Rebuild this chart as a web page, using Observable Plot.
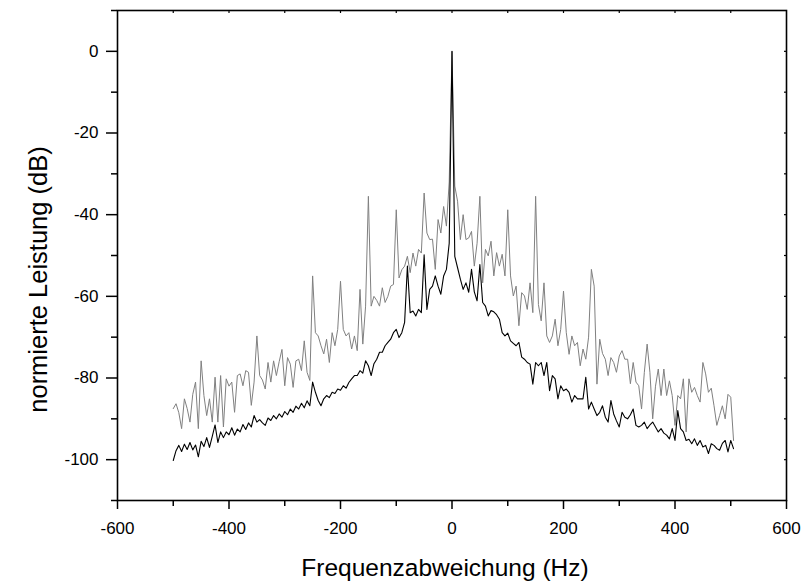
<!DOCTYPE html>
<html>
<head>
<meta charset="utf-8">
<script src="https://cdn.jsdelivr.net/npm/d3@7"></script>
<script src="https://cdn.jsdelivr.net/npm/@observablehq/plot@0.6"></script>
<style>
  body { margin: 0; background: #fff; }
  #chart { width: 801px; height: 583px; }
</style>
</head>
<body>
<div id="chart"></div>
<script>
// Sample frequencies: -500 Hz .. 505 Hz, 5 Hz spacing
const freqStart = -500;
const freqStep = 5;

// grey spectrum (dB)
const greyDb = [
  -87.5, -86.3, -88.5, -92.4, -85.1, -87.5, -90.8, -84, -81, -92.4,
  -75.8, -84.3, -89.2, -85.1, -90.8, -79.8, -90.8, -79.4, -92, -80.2,
  -82, -81, -88.4, -79.4, -79, -81.9, -78.2, -78.6, -86.7, -81,
  -69.7, -79.4, -80.5, -82.7, -76.2, -81, -75.8, -79.4, -76, -73,
  -81.9, -75, -76.6, -82.3, -75.8, -75.4, -78.2, -70.9, -78.6, -80.6,
  -55,
  -68.9, -69.7, -72.1, -74.1, -70.5, -76.2, -68.9, -72.1, -68.1,
  -56.3, -68.1, -69.7, -68.9, -72.9, -69.7, -73.3, -58.3, -71.7, -62.4,
  -35.5, -62.4, -60, -61, -62.4, -57.9, -61.5, -60, -57.5, -57.1,
  -38.8, -55.5, -53.5, -52.6, -50.2, -54.2, -49.4, -52.6, -48.5, -49.4,
  -34.7, -44.5, -46.1, -46, -53.4, -41.2, -44.5, -38, -42.8, -32,
  0,
  -33, -36.7, -46.1, -40, -46.1, -45.7, -44.1, -52.6, -47,
  -35.5, -56.7, -48.5, -50.1, -46.5, -55, -49.3, -52.6, -49.7, -55,
  -38.8, -55, -59.9, -57.5, -67.2, -59.1, -59.9, -63.2, -56.7, -64,
  -35.5, -62, -66, -56.7, -69.7, -71.3, -69.7, -65.6, -72.1, -68.1,
  -58.7, -68.9, -74.2, -69.7, -72.1, -71.3, -77, -72.9, -75.4, -70,
  -53.4, -57.5, -81.5,
  -70.5, -74, -75.4, -79.4, -75, -76.2, -78.6, -74.6, -73.3, -75.4,
  -75.4, -81.4, -76.2, -81, -81.9, -87.6, -78.6, -71.7, -78.6, -90,
  -82, -77.8, -84.3, -77.8, -84.3, -80.7, -84.3, -91.6, -84.3, -85.1,
  -80.2, -93.2, -80.2, -83.5, -82.3, -84.3, -85.9, -76.2, -79, -83.5,
  -82.5, -86.8, -91.6, -89.2, -86.8, -90, -84, -84.7, -95.3
];

// black spectrum (dB)
const blackDb = [
  -100.2, -97.8, -96.5, -98, -96.2, -97.5, -95.8, -97.6, -96.4, -99.3,
  -95.5, -96.8, -94.6, -97, -94.3, -91.5, -95.8, -93.2, -94.6, -93.2,
  -93.9, -92.2, -94, -92.5, -93.2, -91.4, -92.6, -91, -92, -89.2,
  -90.8, -90.2, -91, -91.6, -89.8, -90.4, -89.2, -90, -88.8, -89.6,
  -88.2, -89, -87.6, -88.4, -86.9, -87.6, -86.2, -87.3, -85.6, -86.8,
  -81,
  -83.5, -85.5, -86.8, -85.1, -84.3, -84.8, -83.5, -83.8, -82.7,
  -83, -81.9, -82.5, -81.1, -80.2, -79.4, -79.4, -78.2, -78.8, -75.8,
  -77, -79.4, -76.5, -75.4, -73.7, -73.7, -72.1, -71.3, -70.5, -68.9,
  -68.1, -70.1, -68.9, -66.4, -52.6, -64, -63.6, -64.8, -63.2, -64,
  -49.8, -63.2, -58.3, -57.5, -55, -57.5, -59.5, -55, -53.4, -47,
  0,
  -50.2, -53, -55.8, -58.3, -56.7, -59, -53.4, -58.9, -61.1,
  -52.2, -61.5, -62.4, -64.8, -63.5, -63.8, -64.5, -65.6, -68.9, -69.7,
  -69, -70.9, -71.5, -72.1, -71.3, -74.9, -75.4, -76.2, -76.6, -81.5,
  -76.2, -77, -76.2, -79.4, -76.2, -83.1, -79.4, -80.2, -85.1, -81.9,
  -83.1, -82.7, -83.5, -85.9, -84.3, -85.1, -85.1, -85.1, -79.8, -87.6,
  -85.9, -87.6, -89.2,
  -88.4, -86.8, -89.6, -90.8, -85.5, -88.8, -90.5, -92, -88.4, -89.6,
  -90, -89, -87.6, -91.6, -92, -91.6, -90.8, -92.4, -91.5, -90.8,
  -92, -93.2, -92.4, -93.5, -94, -94.9, -92.4, -95.3, -88, -92.4,
  -93.2, -95.3, -95, -96.1, -94.9, -96.5, -95.3, -96.9, -96.5, -98.5,
  -96.1, -96.5, -97.3, -97.7, -96, -95.3, -98.1, -95.3, -97.3
];

const xMajorTicks = [-600, -400, -200, 0, 200, 400, 600];
const xMinorTicks = [-500, -300, -100, 100, 300, 500];
const xTopTicks = [-500, -400, -300, -200, -100, 0, 100, 200, 300, 400, 500];
const yMajorTicks = [-100, -80, -60, -40, -20, 0];
const yMinorTicks = [-110, -90, -70, -50, -30, -10, 10];
const yRightTicks = [-100, -90, -80, -70, -60, -50, -40, -30, -20, -10, 0];
const xTitle = "Frequenzabweichung (Hz)";
const yTitle = "normierte Leistung (dB)";

const toRows = (vals) => vals.map((v, i) => ({f: freqStart + i * freqStep, db: v}));
const greyRows = toRows(greyDb);
const blackRows = toRows(blackDb);
const noLabel = () => "";
const fmt = (d) => String(d);

const chart = Plot.plot({
  width: 801,
  height: 583,
  marginLeft: 117,
  marginRight: 15,
  marginTop: 10,
  marginBottom: 83,
  style: {fontFamily: "'Liberation Sans', Arial, sans-serif", fontSize: "17px", color: "#000", background: "#fff"},
  x: {domain: [-600, 600]},
  y: {domain: [-110, 10]},
  marks: [
    Plot.lineY(greyRows, {x: "f", y: "db", stroke: "#808080", strokeWidth: 1}),
    Plot.lineY(blackRows, {x: "f", y: "db", stroke: "#000", strokeWidth: 1.1}),
    Plot.frame({stroke: "#000", strokeWidth: 1.6}),
    Plot.axisX(xMajorTicks, {anchor: "bottom", tickSize: 9, tickPadding: 12, tickFormat: fmt, strokeWidth: 1.5, label: null, fontSize: 17}),
    Plot.axisX(xMinorTicks, {anchor: "bottom", tickSize: 6, tickFormat: noLabel, strokeWidth: 1.5, label: null}),
    Plot.axisX(xTopTicks, {anchor: "top", tickSize: -2, tickFormat: noLabel, strokeWidth: 1.2, label: null}),
    Plot.axisY(yMajorTicks, {anchor: "left", tickSize: 11, tickPadding: 8, tickFormat: fmt, strokeWidth: 1.5, label: null, fontSize: 17}),
    Plot.axisY(yMinorTicks, {anchor: "left", tickSize: 6, tickFormat: noLabel, strokeWidth: 1.5, label: null}),
    Plot.axisY(yRightTicks, {anchor: "right", tickSize: -3, tickFormat: noLabel, strokeWidth: 1.2, label: null}),
    Plot.text([xTitle], {frameAnchor: "bottom", dy: 68, dx: -7, fontSize: 24.5, fill: "#000", textAnchor: "middle", lineAnchor: "middle"}),
    Plot.text([yTitle], {frameAnchor: "left", dx: -79, dy: 24, rotate: -90, fontSize: 25.5, fill: "#000", textAnchor: "middle", lineAnchor: "middle"})
  ]
});
document.getElementById("chart").appendChild(chart);
</script>
</body>
</html>
